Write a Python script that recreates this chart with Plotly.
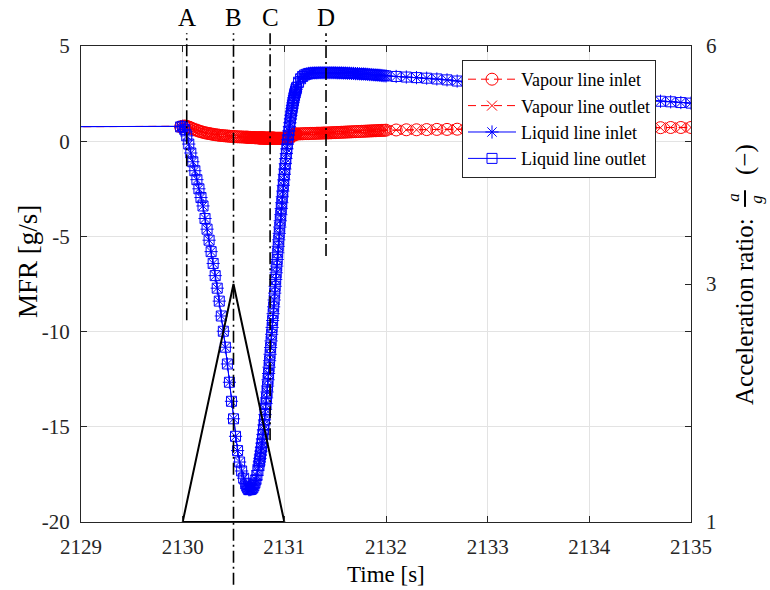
import numpy as np
import plotly.graph_objects as go

# ---------------- data ----------------
# time sampling segments [s]
time_seg0 = [2128.0, 2129.98]
time_seg1 = np.linspace(2130.00, 2130.62, 32)
time_seg2 = np.linspace(2130.63, 2130.75, 13)
time_seg3 = np.linspace(2130.755, 2131.12, 74)
time_seg4 = np.linspace(2131.14, 2132.00, 44)
time_seg5 = np.linspace(2132.1, 2135.0, 30)

# liquid line mass flow rate [g/s]
liquid_seg0 = [0.75, 0.75]
liquid_seg1 = [0.78, 0.62, 0.28, -0.15, -0.62, -1.08, -1.55, -2.02, -2.50, -2.96,
               -3.40, -4.06, -4.62, -5.20, -5.80, -6.42, -7.06, -7.72, -8.40, -9.18,
               -9.98, -10.82, -11.70, -12.66, -13.66, -14.58, -15.50, -16.25, -16.85, -17.32,
               -17.70, -18.00]
liquid_seg2 = [-18.12, -18.22, -18.30, -18.30, -18.29, -18.26, -18.20, -18.10, -17.96, -17.78,
               -17.56, -17.30, -17.00]
liquid_seg3 = [-16.84, -16.66, -16.48, -16.28, -16.08, -15.86, -15.64, -15.40, -15.16, -14.90,
               -14.64, -14.36, -14.08, -13.78, -13.48, -13.17, -12.86, -12.53, -12.20, -11.87,
               -11.53, -11.19, -10.84, -10.49, -10.14, -9.78, -9.42, -9.06, -8.70, -8.34,
               -7.98, -7.62, -7.26, -6.91, -6.56, -6.21, -5.86, -5.52, -5.18, -4.84,
               -4.51, -4.18, -3.86, -3.54, -3.23, -2.92, -2.62, -2.32, -2.03, -1.74,
               -1.46, -1.18, -0.91, -0.65, -0.40, -0.15, 0.09, 0.32, 0.54, 0.76,
               0.97, 1.17, 1.36, 1.54, 1.71, 1.87, 2.02, 2.16, 2.29, 2.41,
               2.52, 2.62, 2.72, 2.81]
liquid_seg4 = [3.10, 3.28, 3.40, 3.48, 3.52, 3.56, 3.57, 3.58, 3.59, 3.59,
               3.60, 3.60, 3.60, 3.60, 3.60, 3.60, 3.60, 3.60, 3.60, 3.59,
               3.59, 3.59, 3.58, 3.58, 3.57, 3.57, 3.56, 3.56, 3.55, 3.55,
               3.54, 3.53, 3.53, 3.52, 3.51, 3.50, 3.50, 3.49, 3.48, 3.47,
               3.46, 3.45, 3.44, 3.43]
liquid_seg5 = [3.40, 3.37, 3.34, 3.31, 3.27, 3.22, 3.16, 3.10, 3.04, 2.98,
               2.92, 2.86, 2.80, 2.74, 2.68, 2.62, 2.56, 2.50, 2.45, 2.40,
               2.35, 2.30, 2.26, 2.22, 2.18, 2.14, 2.10, 2.07, 2.03, 2.00]

# vapour line mass flow rate [g/s]
vapour_seg0 = [0.75, 0.75]
vapour_seg1 = [0.78, 0.80, 0.78, 0.74, 0.70, 0.65, 0.61, 0.57, 0.53, 0.50,
               0.47, 0.44, 0.42, 0.40, 0.38, 0.36, 0.34, 0.33, 0.31, 0.30,
               0.29, 0.28, 0.27, 0.26, 0.25, 0.25, 0.24, 0.23, 0.23, 0.22,
               0.22, 0.21]
vapour_seg2 = [0.21, 0.21, 0.20, 0.20, 0.20, 0.19, 0.19, 0.19, 0.18, 0.18,
               0.18, 0.18, 0.17]
vapour_seg3 = [0.17] * 10 + [0.16] * 20 + [0.15] * 20 + \
              [0.15, 0.15, 0.15, 0.15, 0.16, 0.16, 0.17, 0.18, 0.19, 0.20,
               0.22, 0.24, 0.26, 0.28, 0.30, 0.32, 0.33, 0.34, 0.35, 0.36,
               0.37, 0.37, 0.38, 0.38]
vapour_seg4 = [0.38, 0.39, 0.39, 0.40, 0.40, 0.40, 0.41, 0.41, 0.41, 0.42,
               0.42, 0.42, 0.43, 0.43, 0.43, 0.44, 0.44, 0.45, 0.45, 0.46,
               0.46, 0.47, 0.47, 0.48, 0.48, 0.49, 0.49, 0.50, 0.50, 0.51,
               0.51, 0.52, 0.52, 0.53, 0.53, 0.54, 0.54, 0.55, 0.55, 0.56,
               0.56, 0.57, 0.57, 0.58]
vapour_seg5 = [0.59, 0.60, 0.60, 0.61, 0.62, 0.62, 0.63, 0.63, 0.64, 0.64,
               0.65, 0.65, 0.66, 0.66, 0.66, 0.67, 0.67, 0.68, 0.68, 0.68,
               0.69, 0.69, 0.70, 0.70, 0.70, 0.71, 0.71, 0.72, 0.72, 0.72]

# acceleration pulse (right axis)
accel_time = [2130.0, 2130.5, 2131.0, 2130.0]
accel_ratio = [1.0, 3.5, 1.0, 1.0]

# event markers
event_times = [2130.04, 2130.50, 2130.86, 2131.41]
event_labels = ["A", "B", "C", "D"]

# axis ticks
x_ticks = [2129, 2130, 2131, 2132, 2133, 2134, 2135]
mfr_ticks = [-20, -15, -10, -5, 0, 5]
mfr_tick_labels = ["-20", "-15", "-10", "-5", "0", "5"]
accel_ticks = [1, 3.5, 6]
accel_tick_labels = ["1", "3", "6"]

series_names = ["Vapour line inlet", "Vapour line outlet", "Liquid line inlet", "Liquid line outlet"]

# ---------------- assemble ----------------
time = np.concatenate([time_seg0, time_seg1, time_seg2, time_seg3, time_seg4, time_seg5])
liquid = np.concatenate([liquid_seg0, liquid_seg1, liquid_seg2, liquid_seg3, liquid_seg4, liquid_seg5])
vapour = np.concatenate([vapour_seg0, vapour_seg1, vapour_seg2, vapour_seg3, vapour_seg4, vapour_seg5])
assert len(time) == len(liquid) == len(vapour), (len(time), len(liquid), len(vapour))

vapour_inlet = vapour
vapour_outlet = vapour
liquid_inlet = liquid
liquid_outlet = liquid

FONT = "Liberation Serif, Times New Roman, serif"
RED = "rgb(255,0,0)"
BLUE = "rgb(0,0,255)"
AX = "#262626"
GRID = "#e3e3e3"

fig = go.Figure()

styles = [
    (vapour_inlet, RED, "8px,5px", "circle-open", 12),
    (vapour_outlet, RED, "8px,5px", "x-thin-open", 10),
    (liquid_inlet, BLUE, "solid", "asterisk-open", 11),
    (liquid_outlet, BLUE, "solid", "square-open", 10),
]
for name, (vals, col, dash, sym, size) in zip(series_names, styles):
    fig.add_trace(go.Scatter(
        x=time, y=vals, name=name, mode="lines+markers",
        line=dict(color=col, width=1, dash=dash),
        marker=dict(symbol=sym, size=size, color=col, line=dict(color=col, width=1)),
    ))

fig.add_trace(go.Scatter(
    x=accel_time, y=accel_ratio, yaxis="y2", mode="lines",
    line=dict(color="black", width=2), showlegend=False, hoverinfo="skip",
))

# event dash-dot lines and labels
line_top = 1.027
line_bottoms = [0.424, -0.132, 0.172, 0.559]
for t, lab, yb in zip(event_times, event_labels, line_bottoms):
    fig.add_shape(type="line", xref="x", yref="paper", x0=t, x1=t, y0=yb, y1=line_top,
                  line=dict(color="black", width=1.6, dash="12px,4px,2px,4px"), layer="above")
    fig.add_annotation(x=t, y=1.059, xref="x", yref="paper", text=lab, showarrow=False,
                       font=dict(family=FONT, size=25, color="black"),
                       xanchor="center", yanchor="middle")

# axis titles as annotations
def label(text, x, y, dx=0, dy=0, size=25, angle=0):
    fig.add_annotation(x=x, y=y, xref="paper", yref="paper", xshift=dx, yshift=dy, text=text,
                       textangle=angle, showarrow=False, xanchor="center", yanchor="middle",
                       font=dict(family=FONT, size=size, color="black"))

label("MFR [g/s]", 0, 0.546, dx=-53, size=27, angle=-90)
label("Time [s]", 0.5, 0, dy=-52, size=23)
label("Acceleration ratio:", 1, 0.4412, dx=54, size=25, angle=-90)
label("<i>a</i>", 1, 0.681, dx=43, size=17, angle=-90)
label("<i>g</i>", 1, 0.677, dx=66, size=17, angle=-90)
fig.add_shape(type="line", xref="paper", yref="paper", x0=1.0885, x1=1.0885, y0=0.662, y1=0.697,
              line=dict(color="black", width=2))
label("(\u2212)", 1, 0.7605, dx=54, size=25, angle=-90)

fig.update_layout(
    width=770, height=590,
    margin=dict(l=81, r=79, t=46, b=68, autoexpand=False),
    paper_bgcolor="white", plot_bgcolor="white",
    font=dict(family=FONT, size=21, color=AX),
    showlegend=True,
    legend=dict(x=0.6246, y=0.9706, xanchor="left", yanchor="top",
                bgcolor="white", bordercolor=AX, borderwidth=1,
                font=dict(family=FONT, size=18, color="black"),
                tracegroupgap=0, itemwidth=48),
    xaxis=dict(range=[2129, 2135], tickvals=x_ticks, ticks="inside", ticklen=6,
               tickcolor=AX, showline=True, linecolor=AX, linewidth=1, mirror="ticks",
               showgrid=True, gridcolor=GRID, gridwidth=1, zeroline=False,
               tickfont=dict(family=FONT, size=21, color=AX), ticklabelstandoff=6),
    yaxis=dict(range=[-20, 5], tickvals=mfr_ticks, ticktext=mfr_tick_labels, ticks="inside",
               ticklen=6, tickcolor=AX, showline=True, linecolor=AX, linewidth=1, mirror="ticks",
               showgrid=True, gridcolor=GRID, gridwidth=1, zeroline=False,
               tickfont=dict(family=FONT, size=21, color=AX), ticklabelstandoff=6),
    yaxis2=dict(range=[1, 6], overlaying="y", side="right", tickvals=accel_ticks,
                ticktext=accel_tick_labels, ticks="inside", ticklen=6, tickcolor=AX,
                showline=False, showgrid=False, zeroline=False,
                tickfont=dict(family=FONT, size=21, color=AX), ticklabelstandoff=14),
)

fig.write_html("out.html", config={"displayModeBar": False},
               post_script="document.body.style.margin = '0px';")
